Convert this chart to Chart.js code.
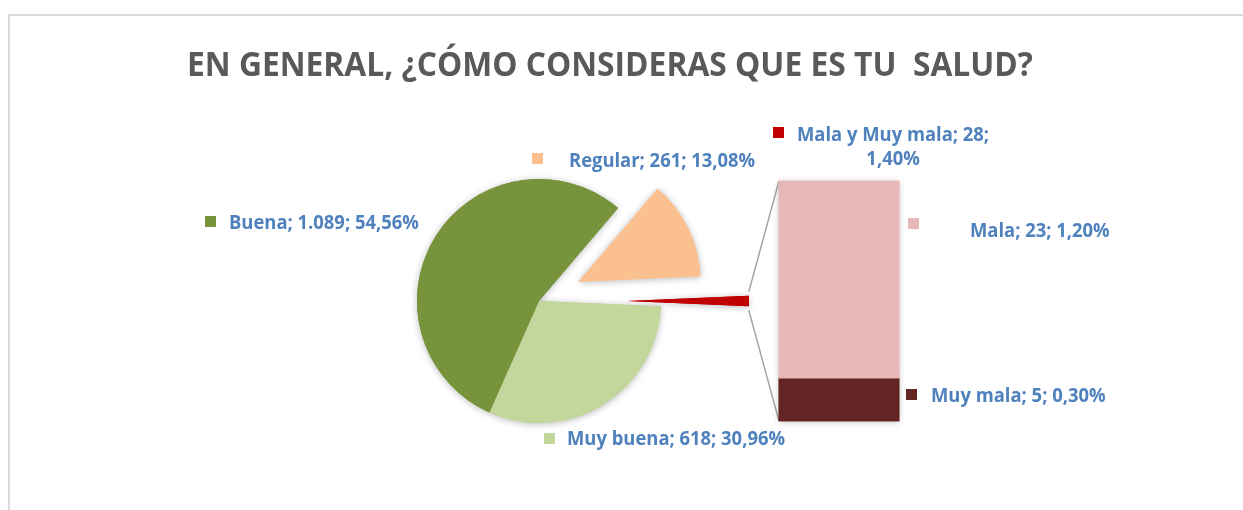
<!DOCTYPE html>
<html>
<head>
<meta charset="utf-8">
<script src="https://cdn.jsdelivr.net/npm/chart.js@4.4.0/dist/chart.umd.min.js"></script>
<style>
  html, body { margin: 0; padding: 0; background: #fff; }
  #wrap { position: relative; width: 1243px; height: 510px; overflow: hidden; }
  #pie { position: absolute; left: 0; top: 0; }
  #bar { position: absolute; left: 769px; top: 171px; }
</style>
</head>
<body>
<div id="wrap">
  <canvas id="pie" width="1243" height="510"></canvas>
  <canvas id="bar" width="140" height="260"></canvas>
</div>
<script>
const title = "EN GENERAL, ¿CÓMO CONSIDERAS QUE ES TU  SALUD?"

// main pie, clockwise starting just below the right-hand side
const pieLabels = ["Muy buena", "Buena", "Regular", "Mala y Muy mala"]
const pieCounts = [618, 1089, 261, 28]
const piePcts = ["30,96%", "54,56%", "13,08%", "1,40%"]

// second plot (stacked bar), bottom to top
const barLabels = ["Muy mala", "Mala"]
const barCounts = [5, 23]
const barPcts = ["0,30%", "1,20%"]

const pieColors = ["#C3D69B", "#77933C", "#FAC090", "#C00000"]
const barColors = ["#632523", "#E6B9B8"]
const explode = [0, 0, 44, 88]

const LABEL_COLOR = "#4F81BD"
const LABEL_FONT = "bold 19px 'Open Sans'"
const TITLE_FONT = "bold 34px 'Open Sans'"

// where Excel left the data labels (marker box + text baseline)
const labelPos = {
	"Buena": { mx: 205, my: 216, tx: 229, ty: 229 },
	"Regular": { mx: 532, my: 153, tx: 569, ty: 167 },
	"Muy buena": { mx: 544, my: 433, tx: 567, ty: 445 },
	"Mala y Muy mala": { mx: 773, my: 127, tx: 797, ty: 141, ty2: 165 },
	"Mala": { mx: 908, my: 218, tx: 970, ty: 237 },
	"Muy mala": { mx: 906, my: 389, tx: 931, ty: 402 },
}

const fmt = (n) => String(n).replace(/\B(?=(\d{3})+(?!\d))/g, ".")
const total = pieCounts.reduce((a, b) => a + b, 0)

/*
 * soft shadow like excel, drawn for all shapes first then shapes on top
 */
const shadowDraw = (ctx, els, shift) => {
	ctx.save()
	ctx.shadowColor = "rgba(0, 0, 0, 0.28)"
	ctx.shadowBlur = 7
	ctx.shadowOffsetY = 1
	els.forEach((el, i) => {
		ctx.save()
		shift && shift(el, i)
		el.draw(ctx)
		ctx.restore()
	})
	ctx.restore()
	els.forEach((el, i) => {
		ctx.save()
		shift && shift(el, i)
		el.draw(ctx)
		ctx.restore()
	})
}

const barShadow = {
	id: "barShadow",
	beforeDatasetsDraw(chart) {
		const els = []
		chart.data.datasets.forEach((d, i) => {
			chart.getDatasetMeta(i).data.forEach((el) => els.push(el))
		})
		shadowDraw(chart.ctx, els)
		return false
	},
}

const barChart = new Chart(document.getElementById("bar"), {
	type: "bar",
	data: {
		labels: [""],
		datasets: barLabels.map((l, i) => ({
			label: l,
			data: [barCounts[i]],
			backgroundColor: barColors[i],
			borderWidth: 0,
		})),
	},
	options: {
		responsive: false,
		animation: false,
		events: [],
		categoryPercentage: 1,
		barPercentage: 1,
		layout: { padding: 10 },
		scales: {
			x: { stacked: true, display: false },
			y: {
				stacked: true,
				display: false,
				min: 0,
				max: barCounts.reduce((a, b) => a + b, 0),
			},
		},
		plugins: { legend: { display: false }, tooltip: { enabled: false } },
	},
	plugins: [barShadow],
})

const explodePlugin = {
	id: "explode",
	beforeDatasetDraw(chart, args) {
		const ctx = chart.ctx
		shadowDraw(ctx, args.meta.data, (arc, i) => {
			const mid = (arc.startAngle + arc.endAngle) / 2
			ctx.translate(Math.cos(mid) * explode[i], Math.sin(mid) * explode[i])
		})
		return false
	},
}

const decor = {
	id: "decor",
	afterDraw(chart) {
		const ctx = chart.ctx

		// chart area frame
		ctx.fillStyle = "#D9D9D9"
		ctx.fillRect(8, 14, 1243, 2)
		ctx.fillRect(8, 14, 2, 510)

		// title
		ctx.save()
		ctx.font = TITLE_FONT
		ctx.fillStyle = "#595959"
		ctx.textBaseline = "alphabetic"
		const tw = ctx.measureText(title).width
		const tsx = 846 / tw
		ctx.translate(610 - (tw * tsx) / 2, 76)
		ctx.scale(tsx, 1)
		ctx.fillText(title, 0, 0)
		ctx.restore()

		// connector lines: red slice outer corners -> left corners of the bar
		const red = chart.getDatasetMeta(0).data[3]
		const mid = (red.startAngle + red.endAngle) / 2
		const r = red.outerRadius + explode[3]
		const bm = barChart.getDatasetMeta(1).data[0]
		const bb = barChart.getDatasetMeta(0).data[0]
		const box = barChart.canvas
		const bl = box.offsetLeft + bm.x - bm.width / 2
		const bt = box.offsetTop + bm.y
		const bbot = box.offsetTop + bb.base
		ctx.save()
		ctx.strokeStyle = "#A6A6A6"
		ctx.lineWidth = 1.5
		ctx.beginPath()
		ctx.moveTo(red.x + Math.cos(red.startAngle) * r, red.y + Math.sin(red.startAngle) * r)
		ctx.lineTo(bl, bt)
		ctx.moveTo(red.x + Math.cos(red.endAngle) * r, red.y + Math.sin(red.endAngle) * r)
		ctx.lineTo(bl, bbot)
		ctx.stroke()
		ctx.restore()

		// data labels
		ctx.save()
		ctx.font = LABEL_FONT
		const sx = 218 / ctx.measureText("Muy buena; 618; 30,96%").width
		const put = (text, x, y) => {
			ctx.save()
			ctx.translate(x, y)
			ctx.scale(sx, 1)
			ctx.fillText(text, 0, 0)
			ctx.restore()
		}
		const label = (name, color, count, pct) => {
			const p = labelPos[name]
			ctx.fillStyle = color
			ctx.fillRect(p.mx, p.my, 11, 11)
			ctx.fillStyle = LABEL_COLOR
			if (p.ty2) {
				const l1 = name + "; " + fmt(count) + ";"
				const w1 = ctx.measureText(l1).width * sx
				const w2 = ctx.measureText(pct).width * sx
				put(l1, p.tx, p.ty)
				put(pct, p.tx + w1 / 2 - w2 / 2, p.ty2)
			} else {
				put(name + "; " + fmt(count) + "; " + pct, p.tx, p.ty)
			}
		}
		pieLabels.forEach((n, i) => label(n, pieColors[i], pieCounts[i], piePcts[i]))
		barLabels.forEach((n, i) => label(n, barColors[i], barCounts[i], barPcts[i]))
		ctx.restore()
	},
}

const pieChart = new Chart(document.getElementById("pie"), {
	type: "pie",
	data: {
		labels: pieLabels,
		datasets: [
			{
				data: pieCounts,
				backgroundColor: pieColors,
				borderWidth: 0,
			},
		],
	},
	options: {
		responsive: false,
		animation: false,
		events: [],
		// center the small slice on the right, towards the bar
		rotation: 90 + (pieCounts[3] / total) * 180,
		radius: 122,
		layout: { padding: { left: 289, right: 454, top: 101, bottom: 9 } },
		plugins: { legend: { display: false }, tooltip: { enabled: false } },
	},
	plugins: [explodePlugin, decor],
})
</script>
</body>
</html>
